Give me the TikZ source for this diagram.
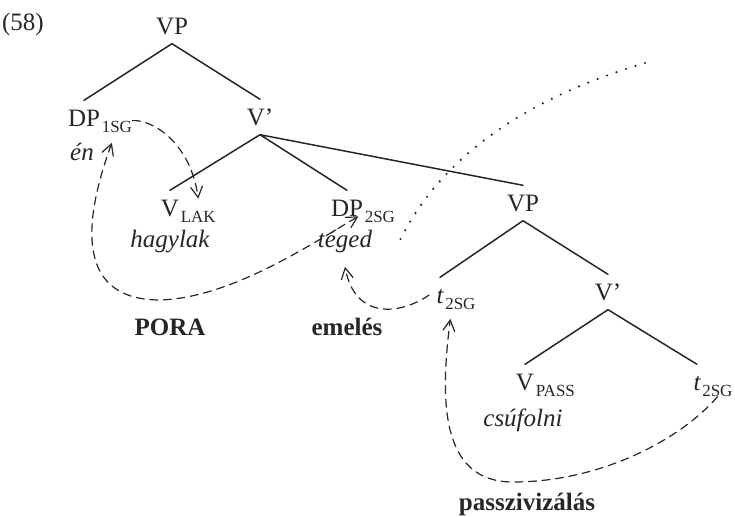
\documentclass[tikz,border=0pt]{standalone}
\usepackage{fontspec}
\setmainfont{Liberation Serif}
\usetikzlibrary{arrows.meta}
\newcommand\exfont{\fontsize{12.5}{15}\selectfont}
\begin{document}
\begin{tikzpicture}[x=.5pt,y=-.5pt,line join=round,line cap=round,
>={Straight Barb[length=5.5pt,width=6pt]},color=black!85,font=\exfont,
cat/.style={inner xsep=.5pt,inner ysep=4.5pt,text height=8.3pt,text depth=0pt},
sub/.style={font=\fontsize{8.5}{10}\selectfont,inner sep=0pt,anchor=base west,yshift=-3pt},
word/.style={font=\exfont\itshape,inner sep=1pt,anchor=base},
proc/.style={font=\exfont\bfseries,anchor=base},
move/.style={line width=.6pt,dash pattern=on 4pt off 2.8pt}]
\useasboundingbox (0,0) rectangle (735,516);
\path (23,30)node[anchor=base](num){(58)};
\path (172,26)node[cat](vpa){VP}
(84,118)node[cat](dpa){DP}
(260,117)node[cat](vba){V'}
(170,208)node[cat](vl){V}
(347,208)node[cat](dpb){DP}
(523,203)node[cat](vpb){VP}
(440,295)node[cat](ta){\itshape t}
(608,292)node[cat](vbb){V'}
(525,382)node[cat](vpass){V}
(697,382)node[cat](tb){\itshape t}
;
\path (dpa.base east)node[sub](dpas){1SG}
(vl.base east)node[sub](vls){LAK}
(dpb.base east)node[sub](dpbs){2SG}
(ta.base east)node[sub](tas){2SG}
(vpass.base east)node[sub](vpasss){PASS}
(tb.base east)node[sub](tbs){2SG}
;
\path (82,160)node[word](en){én}
(170,247)node[word](hagy){hagylak}
(345,247)node[word](teg){téged}
(523,426)node[word](csuf){csúfolni}
(170,335)node[proc](pora){PORA}
(347,335)node[proc](emel){emelés}
(527,510)node[proc](passz){passzivizálás}
;
\draw[line width=.75pt] (vpa.south)--(dpa.north) (vpa.south)--(vba.north)
(vba.south)--(vl.north) (vba.south)--(dpb.north) (vba.south)--(vpb.north)
(vpb.south)--(ta.north) (vpb.south)--(vbb.north)
(vbb.south)--(vpass.north) (vbb.south)--(tb.north);
\draw[move,->] (dpas.north east) .. controls (150,119) and (190,140) .. ([yshift=6pt]vls.north);
\draw[move,<->] ([shift={(-2.5pt,-5pt)}]dpas.south) .. controls (80,230) and (80,300) .. (160,300)
.. controls (230,298) and (310,245) .. ([xshift=-3pt]dpb.base east);
\draw[move,->] ([xshift=-3pt]ta.west) .. controls (400,315) and (355,320) .. ([yshift=-6pt]teg.south);
\draw[move,->] (tbs.south) .. controls (680,440) and (600,482) .. (513,482)
.. controls (440,482) and (440,400) .. ([shift={(-5pt,-4.5pt)}]tas.south);
\coordinate (dota) at (645,63);
\coordinate (dotb) at (400,240);
\draw[line width=1.2pt,dash pattern=on 0pt off 5pt] (dota) .. controls (520,100) and (440,160) .. (dotb);
\end{tikzpicture}
\end{document}
